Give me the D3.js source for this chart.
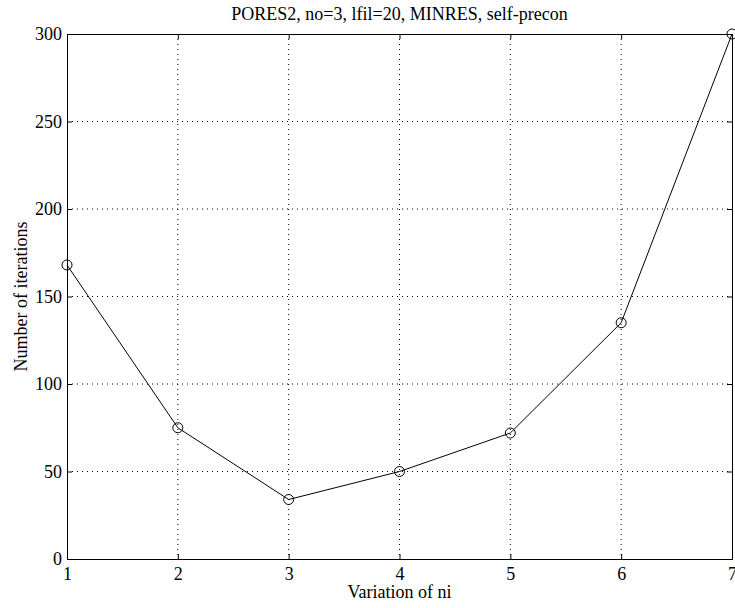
<!DOCTYPE html>
<html>
<head>
<meta charset="utf-8">
<script src="https://cdn.jsdelivr.net/npm/d3@7"></script>
<style>
  body { margin: 0; background: #fff; }
  text { font-family: "Liberation Serif", "Times New Roman", serif; fill: #000; }
</style>
</head>
<body>
<div id="chart"></div>
<script>
// data
let variation = [1, 2, 3, 4, 5, 6, 7];
let iterations = [168, 75, 34, 50, 72, 135, 300];
let xTicks = [1, 2, 3, 4, 5, 6, 7];
let yTicks = [0, 50, 100, 150, 200, 250, 300];

let width = 735, height = 608;
let margin = {top: 34, right: 3, bottom: 49, left: 67};
let w = width - margin.left - margin.right;
let h = height - margin.top - margin.bottom;

let svg = d3.select("#chart").append("svg")
    .attr("width", width)
    .attr("height", height);

let g = svg.append("g")
    .attr("transform", "translate(" + margin.left + "," + margin.top + ")");

let x = d3.scaleLinear().domain([1, 7]).range([0, w]);
let y = d3.scaleLinear().domain([0, 300]).range([h, 0]);

// dotted grid
g.selectAll(".vgrid").data(xTicks.slice(1, -1)).enter().append("line")
    .attr("x1", d => x(d)).attr("x2", d => x(d))
    .attr("y1", 0).attr("y2", h)
    .attr("stroke", "#000").attr("stroke-width", 1)
    .attr("stroke-dasharray", "1,4");
g.selectAll(".hgrid").data(yTicks.slice(1, -1)).enter().append("line")
    .attr("x1", 0).attr("x2", w)
    .attr("y1", d => y(d)).attr("y2", d => y(d))
    .attr("stroke", "#000").attr("stroke-width", 1)
    .attr("stroke-dasharray", "1,4");

// axes, ticks pointing inward
let xAxis = g.append("g").attr("transform", "translate(0," + h + ")")
    .call(d3.axisBottom(x).tickValues(xTicks).tickSize(-5).tickPadding(8).tickFormat(d3.format("d")));
let xAxisTop = g.append("g")
    .call(d3.axisTop(x).tickValues(xTicks).tickSize(-5).tickFormat(""));
let yAxis = g.append("g")
    .call(d3.axisLeft(y).tickValues(yTicks).tickSize(-5).tickPadding(5));
let yAxisRight = g.append("g").attr("transform", "translate(" + w + ",0)")
    .call(d3.axisRight(y).tickValues(yTicks).tickSize(-5).tickFormat(""));

[xAxis, xAxisTop, yAxis, yAxisRight].forEach(a => {
    a.select(".domain").attr("stroke", "#000");
    a.selectAll(".tick line").attr("stroke", "#000");
    a.selectAll("text").style("font-size", "18px").style("font-family", "Liberation Serif");
});

// line + circle markers
let line = d3.line()
    .x((d, i) => x(variation[i]))
    .y(d => y(d));

g.append("path")
    .datum(iterations)
    .attr("d", line)
    .attr("fill", "none")
    .attr("stroke", "#000")
    .attr("stroke-width", 1);

g.selectAll(".pt").data(iterations).enter().append("circle")
    .attr("cx", (d, i) => x(variation[i]))
    .attr("cy", d => y(d))
    .attr("r", 5)
    .attr("fill", "none")
    .attr("stroke", "#000")
    .attr("stroke-width", 1);

// labels
svg.append("text")
    .attr("x", margin.left + w / 2).attr("y", 20)
    .attr("text-anchor", "middle")
    .style("font-size", "18px")
    .text("PORES2, no=3, lfil=20, MINRES, self-precon");

svg.append("text")
    .attr("x", margin.left + w / 2).attr("y", 598)
    .attr("text-anchor", "middle")
    .style("font-size", "18px")
    .text("Variation of ni");

svg.append("text")
    .attr("transform", "translate(27," + (margin.top + h / 2) + ") rotate(-90)")
    .attr("text-anchor", "middle")
    .style("font-size", "18px")
    .text("Number of iterations");
</script>
</body>
</html>
